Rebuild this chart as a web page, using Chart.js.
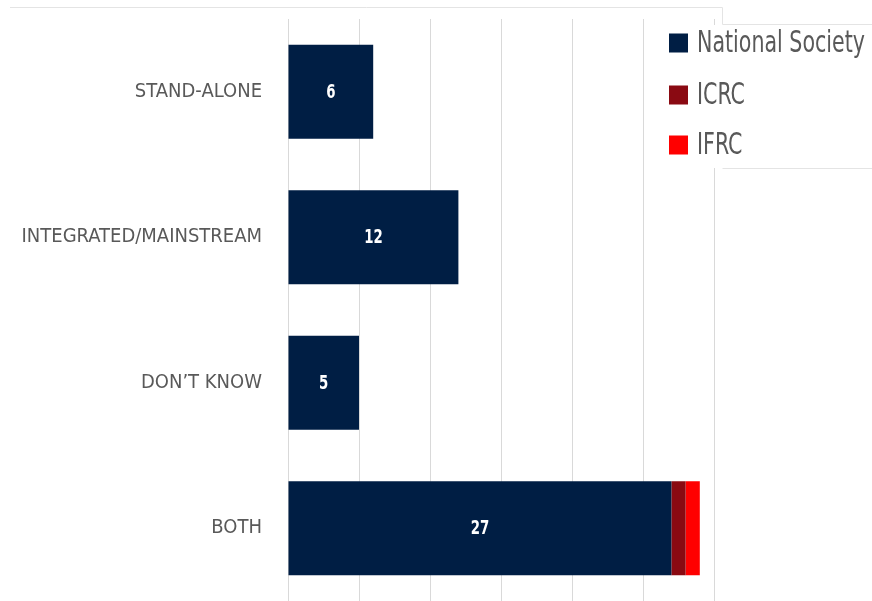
<!DOCTYPE html>
<html>
<head>
<meta charset="utf-8">
<script src="https://cdn.jsdelivr.net/npm/chart.js@4/dist/chart.umd.min.js"></script>
<style>
  html, body { margin: 0; padding: 0; background: #ffffff; }
  #chart { display: block; }
</style>
</head>
<body>
<canvas id="chart" width="872" height="601"></canvas>
<script>
// Données du graphique
const categories = ['STAND-ALONE', 'INTEGRATED/MAINSTREAM', 'DON\u2019T KNOW', 'BOTH'];
const nationalSociety = [6, 12, 5, 27];
const icrc = [0, 0, 0, 1];
const ifrc = [0, 0, 0, 1];
const seriesNames = ['National Society', 'ICRC', 'IFRC'];
const seriesColors = ['#001e44', '#8a0a12', '#ff0000'];

const FONT = '"DejaVu Sans Condensed", "Liberation Sans Narrow", sans-serif';
const GREY = '#595959';

// Étiquettes blanches au centre des barres National Society
const valueLabels = {
  id: 'valueLabels',
  afterDatasetsDraw(chart) {
    const ctx = chart.ctx;
    const meta = chart.getDatasetMeta(0);
    ctx.font = 'bold 19px ' + FONT;
    ctx.fillStyle = '#ffffff';
    ctx.textAlign = 'center';
    ctx.textBaseline = 'middle';
    meta.data.forEach((bar, i) => {
      const v = nationalSociety[i];
      if (!v) return;
      const cx = (bar.x + bar.base) / 2;
      ctx.save();
      ctx.translate(cx, bar.y + 1);
      ctx.scale(0.78, 1);
      ctx.fillText(String(v), 0, 0);
      ctx.restore();
    });
  }
};

// Légende dessinée par-dessus le graphique (comme dans l'original)
const overlayLegend = {
  id: 'overlayLegend',
  afterDraw(chart) {
    const ctx = chart.ctx;
    ctx.save();
    // cadre clair
    ctx.strokeStyle = '#e4e4e4';
    ctx.lineWidth = 1;
    ctx.beginPath();
    ctx.moveTo(10, 7.5);
    ctx.lineTo(722.5, 7.5);
    ctx.lineTo(722.5, 24.5);
    ctx.lineTo(872, 24.5);
    ctx.stroke();
    // fond blanc de la légende
    ctx.fillStyle = '#ffffff';
    ctx.fillRect(652, 25, 220, 143);
    ctx.beginPath();
    ctx.moveTo(722.5, 168.5);
    ctx.lineTo(872, 168.5);
    ctx.stroke();
    // éléments
    ctx.font = '30px ' + FONT;
    ctx.textBaseline = 'middle';
    ctx.textAlign = 'left';
    const sx = 168 / ctx.measureText(seriesNames[0]).width;
    const ys = [43, 95, 145];
    chart.data.datasets.forEach((ds, i) => {
      ctx.fillStyle = ds.backgroundColor;
      ctx.fillRect(669, ys[i] - 9.5, 19, 19);
      ctx.save();
      ctx.translate(697, ys[i] + 1);
      ctx.scale(sx, 1);
      ctx.fillStyle = GREY;
      ctx.fillText(ds.label, 0, 0);
      ctx.restore();
    });
    ctx.restore();
  }
};

const chart = new Chart(document.getElementById('chart'), {
  type: 'bar',
  data: {
    labels: categories,
    datasets: [
      { label: seriesNames[0], data: nationalSociety, backgroundColor: seriesColors[0] },
      { label: seriesNames[1], data: icrc, backgroundColor: seriesColors[1] },
      { label: seriesNames[2], data: ifrc, backgroundColor: seriesColors[2] }
    ]
  },
  options: {
    indexAxis: 'y',
    responsive: false,
    animation: false,
    layout: { padding: { top: 19, right: 158, bottom: 0, left: 0 } },
    datasets: {
      bar: { categoryPercentage: 1, barPercentage: 0.646, borderWidth: 0 }
    },
    scales: {
      x: {
        stacked: true,
        min: 0,
        max: 30,
        afterFit: (scale) => { scale.height = 0; },
        ticks: { display: false, stepSize: 5 },
        grid: { color: '#d9d9d9', drawTicks: false },
        border: { display: false }
      },
      y: {
        stacked: true,
        afterFit: (scale) => {
          scale.width = 288;
          scale.paddingTop = 0;
          scale.paddingBottom = 0;
        },
        ticks: { color: GREY, font: { family: FONT, size: 20 }, padding: 26 },
        grid: { display: false, drawTicks: false },
        border: { display: false }
      }
    },
    plugins: {
      legend: { display: false },
      tooltip: { enabled: false }
    }
  },
  plugins: [valueLabels, overlayLegend]
});
</script>
</body>
</html>
